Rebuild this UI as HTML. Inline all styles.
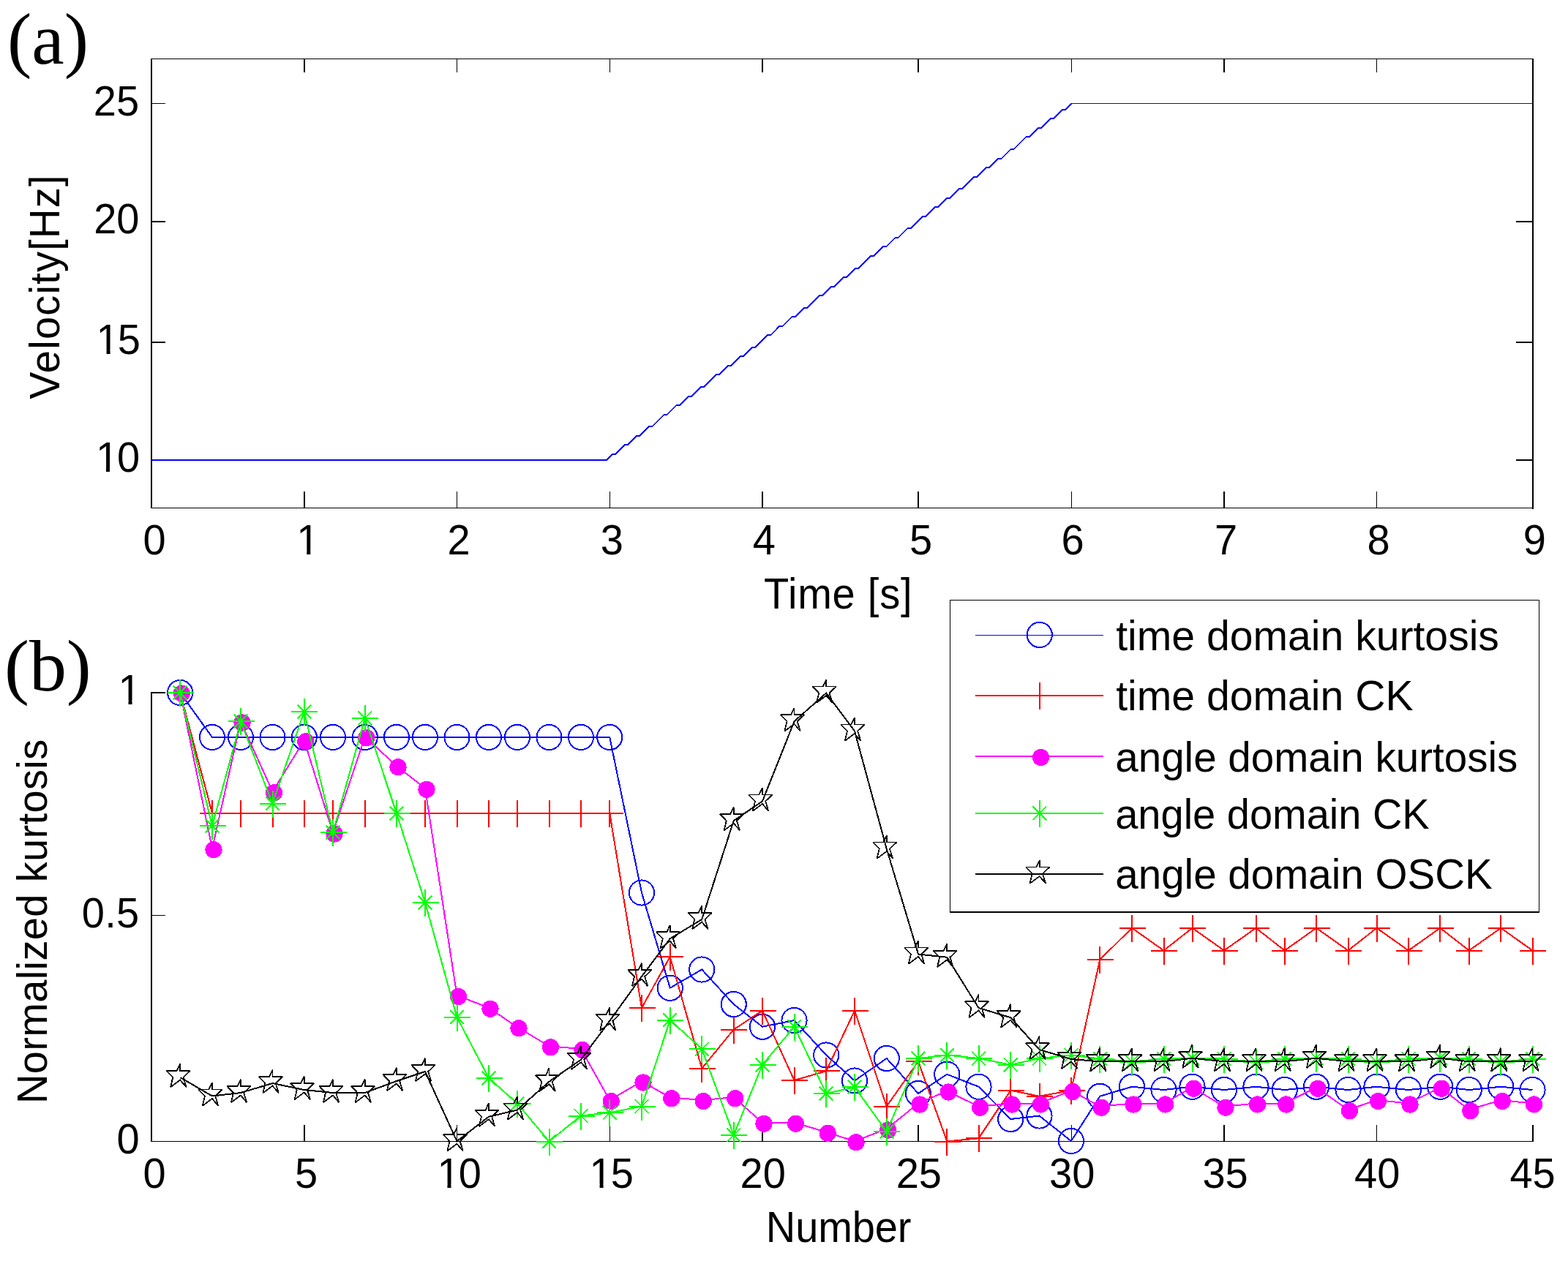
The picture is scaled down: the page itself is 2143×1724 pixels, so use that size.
<!DOCTYPE html>
<html lang="en"><head><meta charset="utf-8"><title>Velocity and normalized kurtosis</title>
<style>html,body{margin:0;padding:0;background:#fff}svg{display:block}text{white-space:pre}</style></head><body>
<svg width="2143" height="1724" viewBox="0 0 2143 1724">
<rect width="2143" height="1724" fill="#fff"/>
<g id="plot-a" shape-rendering="crispEdges">
<rect x="415" y="672" width="2" height="22" fill="#000"/>
<rect x="415" y="81" width="2" height="18" fill="#000"/>
<rect x="624" y="672" width="1" height="22" fill="#000"/>
<rect x="624" y="81" width="1" height="18" fill="#000"/>
<rect x="833" y="672" width="1" height="22" fill="#000"/>
<rect x="833" y="81" width="1" height="18" fill="#000"/>
<rect x="1041" y="672" width="2" height="22" fill="#000"/>
<rect x="1041" y="81" width="2" height="18" fill="#000"/>
<rect x="1254" y="672" width="2" height="22" fill="#000"/>
<rect x="1254" y="81" width="2" height="18" fill="#000"/>
<rect x="1464" y="672" width="1" height="22" fill="#000"/>
<rect x="1464" y="81" width="1" height="18" fill="#000"/>
<rect x="1672" y="672" width="2" height="22" fill="#000"/>
<rect x="1672" y="81" width="2" height="18" fill="#000"/>
<rect x="1881" y="672" width="1" height="22" fill="#000"/>
<rect x="1881" y="81" width="1" height="18" fill="#000"/>
<rect x="208" y="141" width="18" height="1" fill="#000"/>
<rect x="208" y="302" width="18" height="2" fill="#000"/>
<rect x="208" y="467" width="18" height="2" fill="#000"/>
<rect x="2072" y="302" width="22" height="2" fill="#000"/>
<rect x="2072" y="467" width="22" height="2" fill="#000"/>
<rect x="2072" y="628" width="22" height="2" fill="#000"/>
<rect x="206" y="80" width="2" height="615" fill="#000"/>
<rect x="2094" y="80" width="2" height="616" fill="#000"/>
<rect x="206" y="80" width="1890" height="1" fill="#000"/>
<rect x="206" y="694" width="1890" height="1" fill="#000"/>
<polyline fill="none" stroke="#00f" stroke-width="2" stroke-linejoin="miter" points="829,629 833.15,624.83 837.31,620.67 841.46,620.67 845.61,616.5 849.77,612.33 853.92,608.17 858.08,608.17 862.23,604 866.38,599.83 870.54,595.67 874.69,595.67 878.84,591.5 883,587.33 887.15,583.17 891.3,583.17 895.46,579 899.61,574.83 903.76,570.67 907.92,566.5 912.07,566.5 916.23,562.33 920.38,558.17 924.53,554 928.69,554 932.84,549.83 936.99,545.67 941.15,541.5 945.3,541.5 949.45,537.33 953.61,533.17 957.76,529 961.92,529 966.07,524.83 970.22,520.67 974.38,516.5 978.53,512.33 982.68,512.33 986.84,508.17 990.99,504 995.14,499.83 999.3,499.83 1003.45,495.67 1007.6,491.5 1011.76,487.33 1015.91,487.33 1020.07,483.17 1024.22,479 1028.37,474.83 1032.53,474.83 1036.68,470.67 1040.83,466.5 1044.99,462.33 1049.14,458.17 1053.29,458.17 1057.45,454 1061.6,449.83 1065.75,445.67 1069.91,445.67 1074.06,441.5 1078.22,437.33 1082.37,433.17 1086.52,433.17 1090.68,429 1094.83,424.83 1098.98,420.67 1103.14,420.67 1107.29,416.5 1111.44,412.33 1115.6,408.17 1119.75,404 1123.91,404 1128.06,399.83 1132.21,395.67 1136.37,391.5 1140.52,391.5 1144.67,387.33 1148.83,383.17 1152.98,379 1157.13,379 1161.29,374.83 1165.44,370.67 1169.59,366.5 1173.75,366.5 1177.9,362.33 1182.06,358.17 1186.21,354 1190.36,349.83 1194.52,349.83 1198.67,345.67 1202.82,341.5 1206.98,337.33 1211.13,337.33 1215.28,333.17 1219.44,329 1223.59,324.83 1227.75,324.83 1231.9,320.67 1236.05,316.5 1240.21,312.33 1244.36,312.33 1248.51,308.17 1252.67,304 1256.82,299.83 1260.97,295.67 1265.13,295.67 1269.28,291.5 1273.43,287.33 1277.59,283.17 1281.74,283.17 1285.9,279 1290.05,274.83 1294.2,270.67 1298.36,270.67 1302.51,266.5 1306.66,262.33 1310.82,258.17 1314.97,258.17 1319.12,254 1323.28,249.83 1327.43,245.67 1331.58,241.5 1335.74,241.5 1339.89,237.33 1344.05,233.17 1348.2,229 1352.35,229 1356.51,224.83 1360.66,220.67 1364.81,216.5 1368.97,216.5 1373.12,212.33 1377.27,208.17 1381.43,204 1385.58,204 1389.74,199.83 1393.89,195.67 1398.04,191.5 1402.2,187.33 1406.35,187.33 1410.5,183.17 1414.66,179 1418.81,174.83 1422.96,174.83 1427.12,170.67 1431.27,166.5 1435.42,162.33 1439.58,162.33 1443.73,158.17 1447.89,154 1452.04,149.83 1456.19,149.83 1460.35,145.67 1464.5,141.5 1464.5,141.5"/>
<rect x="208" y="628" width="622" height="2" fill="#00f"/>
<rect x="1464" y="141" width="630" height="1" fill="#00f"/>
</g>
<g id="plot-b" shape-rendering="crispEdges">
<rect x="206" y="946" width="2" height="615" fill="#000"/>
<rect x="206" y="1560" width="1890" height="1" fill="#000"/>
<rect x="415" y="1538" width="2" height="22" fill="#000"/>
<rect x="624" y="1538" width="1" height="22" fill="#000"/>
<rect x="833" y="1538" width="1" height="22" fill="#000"/>
<rect x="1041" y="1538" width="2" height="22" fill="#000"/>
<rect x="1254" y="1538" width="2" height="22" fill="#000"/>
<rect x="1464" y="1538" width="1" height="22" fill="#000"/>
<rect x="1672" y="1538" width="2" height="22" fill="#000"/>
<rect x="1881" y="1538" width="1" height="22" fill="#000"/>
<rect x="2094" y="1538" width="2" height="22" fill="#000"/>
<rect x="206" y="946" width="20" height="2" fill="#000"/>
<rect x="208" y="1251" width="18" height="1" fill="#000"/>
<polyline fill="none" stroke="#00f" stroke-width="2" stroke-linejoin="miter" points="246.25,947 290,1008 329,1008 372.5,1008 415.75,1008 455,1008 498.75,1008 542,1008 581,1008 624.5,1008 668,1008 707,1008 750.5,1008 794,1008 833.25,1008 877,1220.5 915.75,1350.75 959.25,1325.5 1002.75,1373 1042,1403.75 1085.5,1395 1129.25,1442.5 1168,1477.5 1211.75,1447 1255,1495 1294.25,1468.75 1337.5,1485.75 1381.25,1530 1420.5,1525.5 1464,1560 1503.25,1498.75 1547,1485.75 1590.5,1490 1629.5,1485.75 1673,1490 1716.5,1485.75 1755.75,1490 1799,1485.75 1842.5,1490 1881.5,1485.75 1925,1490 1968.25,1485.75 2007.75,1490 2051.25,1485.75 2094.5,1490"/>
<circle cx="246.25" cy="947" r="17.1" fill="none" stroke="#00f" stroke-width="2"/>
<circle cx="290" cy="1008" r="17.1" fill="none" stroke="#00f" stroke-width="2"/>
<circle cx="329" cy="1008" r="17.1" fill="none" stroke="#00f" stroke-width="2"/>
<circle cx="372.5" cy="1008" r="17.1" fill="none" stroke="#00f" stroke-width="2"/>
<circle cx="415.75" cy="1008" r="17.1" fill="none" stroke="#00f" stroke-width="2"/>
<circle cx="455" cy="1008" r="17.1" fill="none" stroke="#00f" stroke-width="2"/>
<circle cx="498.75" cy="1008" r="17.1" fill="none" stroke="#00f" stroke-width="2"/>
<circle cx="542" cy="1008" r="17.1" fill="none" stroke="#00f" stroke-width="2"/>
<circle cx="581" cy="1008" r="17.1" fill="none" stroke="#00f" stroke-width="2"/>
<circle cx="624.5" cy="1008" r="17.1" fill="none" stroke="#00f" stroke-width="2"/>
<circle cx="668" cy="1008" r="17.1" fill="none" stroke="#00f" stroke-width="2"/>
<circle cx="707" cy="1008" r="17.1" fill="none" stroke="#00f" stroke-width="2"/>
<circle cx="750.5" cy="1008" r="17.1" fill="none" stroke="#00f" stroke-width="2"/>
<circle cx="794" cy="1008" r="17.1" fill="none" stroke="#00f" stroke-width="2"/>
<circle cx="833.25" cy="1008" r="17.1" fill="none" stroke="#00f" stroke-width="2"/>
<circle cx="877" cy="1220.5" r="17.1" fill="none" stroke="#00f" stroke-width="2"/>
<circle cx="915.75" cy="1350.75" r="17.1" fill="none" stroke="#00f" stroke-width="2"/>
<circle cx="959.25" cy="1325.5" r="17.1" fill="none" stroke="#00f" stroke-width="2"/>
<circle cx="1002.75" cy="1373" r="17.1" fill="none" stroke="#00f" stroke-width="2"/>
<circle cx="1042" cy="1403.75" r="17.1" fill="none" stroke="#00f" stroke-width="2"/>
<circle cx="1085.5" cy="1395" r="17.1" fill="none" stroke="#00f" stroke-width="2"/>
<circle cx="1129.25" cy="1442.5" r="17.1" fill="none" stroke="#00f" stroke-width="2"/>
<circle cx="1168" cy="1477.5" r="17.1" fill="none" stroke="#00f" stroke-width="2"/>
<circle cx="1211.75" cy="1447" r="17.1" fill="none" stroke="#00f" stroke-width="2"/>
<circle cx="1255" cy="1495" r="17.1" fill="none" stroke="#00f" stroke-width="2"/>
<circle cx="1294.25" cy="1468.75" r="17.1" fill="none" stroke="#00f" stroke-width="2"/>
<circle cx="1337.5" cy="1485.75" r="17.1" fill="none" stroke="#00f" stroke-width="2"/>
<circle cx="1381.25" cy="1530" r="17.1" fill="none" stroke="#00f" stroke-width="2"/>
<circle cx="1420.5" cy="1525.5" r="17.1" fill="none" stroke="#00f" stroke-width="2"/>
<circle cx="1464" cy="1560" r="17.1" fill="none" stroke="#00f" stroke-width="2"/>
<circle cx="1503.25" cy="1498.75" r="17.1" fill="none" stroke="#00f" stroke-width="2"/>
<circle cx="1547" cy="1485.75" r="17.1" fill="none" stroke="#00f" stroke-width="2"/>
<circle cx="1590.5" cy="1490" r="17.1" fill="none" stroke="#00f" stroke-width="2"/>
<circle cx="1629.5" cy="1485.75" r="17.1" fill="none" stroke="#00f" stroke-width="2"/>
<circle cx="1673" cy="1490" r="17.1" fill="none" stroke="#00f" stroke-width="2"/>
<circle cx="1716.5" cy="1485.75" r="17.1" fill="none" stroke="#00f" stroke-width="2"/>
<circle cx="1755.75" cy="1490" r="17.1" fill="none" stroke="#00f" stroke-width="2"/>
<circle cx="1799" cy="1485.75" r="17.1" fill="none" stroke="#00f" stroke-width="2"/>
<circle cx="1842.5" cy="1490" r="17.1" fill="none" stroke="#00f" stroke-width="2"/>
<circle cx="1881.5" cy="1485.75" r="17.1" fill="none" stroke="#00f" stroke-width="2"/>
<circle cx="1925" cy="1490" r="17.1" fill="none" stroke="#00f" stroke-width="2"/>
<circle cx="1968.25" cy="1485.75" r="17.1" fill="none" stroke="#00f" stroke-width="2"/>
<circle cx="2007.75" cy="1490" r="17.1" fill="none" stroke="#00f" stroke-width="2"/>
<circle cx="2051.25" cy="1485.75" r="17.1" fill="none" stroke="#00f" stroke-width="2"/>
<circle cx="2094.5" cy="1490" r="17.1" fill="none" stroke="#00f" stroke-width="2"/>
<polyline fill="none" stroke="#f00" stroke-width="2" stroke-linejoin="miter" points="246.25,947 290,1111.75 329,1111.75 372.5,1111.75 415.75,1111.75 455,1111.75 498.75,1111.75 542,1111.75 581,1111.75 624.5,1111.75 668,1111.75 707,1111.75 750.5,1111.75 794,1111.75 833.25,1111.75 877,1378 915.75,1308 959.25,1460.75 1002.75,1407.5 1042,1381.75 1085.5,1477 1129.25,1464.25 1168,1381.75 1211.75,1512.5 1255,1451.25 1294.25,1560.5 1337.5,1556.25 1381.25,1490.75 1420.5,1498.75 1464,1490.75 1503.25,1312 1547,1268.75 1590.5,1299.5 1629.5,1268.75 1673,1299.5 1716.5,1268.75 1755.75,1299.5 1799,1268.75 1842.5,1299.5 1881.5,1268.75 1925,1299.5 1968.25,1268.75 2007.75,1299.5 2051.25,1268.75 2094.5,1299.5"/>
<path d="M228.75 947H264.75M246.25 929V966" fill="none" stroke="#f00" stroke-width="2"/>
<path d="M272.5 1111.75H308.5M290 1093.75V1130.75" fill="none" stroke="#f00" stroke-width="2"/>
<path d="M311.5 1111.75H347.5M329 1093.75V1130.75" fill="none" stroke="#f00" stroke-width="2"/>
<path d="M355 1111.75H391M372.5 1093.75V1130.75" fill="none" stroke="#f00" stroke-width="2"/>
<path d="M398.25 1111.75H434.25M415.75 1093.75V1130.75" fill="none" stroke="#f00" stroke-width="2"/>
<path d="M437.5 1111.75H473.5M455 1093.75V1130.75" fill="none" stroke="#f00" stroke-width="2"/>
<path d="M481.25 1111.75H517.25M498.75 1093.75V1130.75" fill="none" stroke="#f00" stroke-width="2"/>
<path d="M524.5 1111.75H560.5M542 1093.75V1130.75" fill="none" stroke="#f00" stroke-width="2"/>
<path d="M563.5 1111.75H599.5M581 1093.75V1130.75" fill="none" stroke="#f00" stroke-width="2"/>
<path d="M607 1111.75H643M624.5 1093.75V1130.75" fill="none" stroke="#f00" stroke-width="2"/>
<path d="M650.5 1111.75H686.5M668 1093.75V1130.75" fill="none" stroke="#f00" stroke-width="2"/>
<path d="M689.5 1111.75H725.5M707 1093.75V1130.75" fill="none" stroke="#f00" stroke-width="2"/>
<path d="M733 1111.75H769M750.5 1093.75V1130.75" fill="none" stroke="#f00" stroke-width="2"/>
<path d="M776.5 1111.75H812.5M794 1093.75V1130.75" fill="none" stroke="#f00" stroke-width="2"/>
<path d="M815.75 1111.75H851.75M833.25 1093.75V1130.75" fill="none" stroke="#f00" stroke-width="2"/>
<path d="M859.5 1378H895.5M877 1360V1397" fill="none" stroke="#f00" stroke-width="2"/>
<path d="M898.25 1308H934.25M915.75 1290V1327" fill="none" stroke="#f00" stroke-width="2"/>
<path d="M941.75 1460.75H977.75M959.25 1442.75V1479.75" fill="none" stroke="#f00" stroke-width="2"/>
<path d="M985.25 1407.5H1021.25M1002.75 1389.5V1426.5" fill="none" stroke="#f00" stroke-width="2"/>
<path d="M1024.5 1381.75H1060.5M1042 1363.75V1400.75" fill="none" stroke="#f00" stroke-width="2"/>
<path d="M1068 1477H1104M1085.5 1459V1496" fill="none" stroke="#f00" stroke-width="2"/>
<path d="M1111.75 1464.25H1147.75M1129.25 1446.25V1483.25" fill="none" stroke="#f00" stroke-width="2"/>
<path d="M1150.5 1381.75H1186.5M1168 1363.75V1400.75" fill="none" stroke="#f00" stroke-width="2"/>
<path d="M1194.25 1512.5H1230.25M1211.75 1494.5V1531.5" fill="none" stroke="#f00" stroke-width="2"/>
<path d="M1237.5 1451.25H1273.5M1255 1433.25V1470.25" fill="none" stroke="#f00" stroke-width="2"/>
<path d="M1276.75 1560.5H1312.75M1294.25 1542.5V1579.5" fill="none" stroke="#f00" stroke-width="2"/>
<path d="M1320 1556.25H1356M1337.5 1538.25V1575.25" fill="none" stroke="#f00" stroke-width="2"/>
<path d="M1363.75 1490.75H1399.75M1381.25 1472.75V1509.75" fill="none" stroke="#f00" stroke-width="2"/>
<path d="M1403 1498.75H1439M1420.5 1480.75V1517.75" fill="none" stroke="#f00" stroke-width="2"/>
<path d="M1446.5 1490.75H1482.5M1464 1472.75V1509.75" fill="none" stroke="#f00" stroke-width="2"/>
<path d="M1485.75 1312H1521.75M1503.25 1294V1331" fill="none" stroke="#f00" stroke-width="2"/>
<path d="M1529.5 1268.75H1565.5M1547 1250.75V1287.75" fill="none" stroke="#f00" stroke-width="2"/>
<path d="M1573 1299.5H1609M1590.5 1281.5V1318.5" fill="none" stroke="#f00" stroke-width="2"/>
<path d="M1612 1268.75H1648M1629.5 1250.75V1287.75" fill="none" stroke="#f00" stroke-width="2"/>
<path d="M1655.5 1299.5H1691.5M1673 1281.5V1318.5" fill="none" stroke="#f00" stroke-width="2"/>
<path d="M1699 1268.75H1735M1716.5 1250.75V1287.75" fill="none" stroke="#f00" stroke-width="2"/>
<path d="M1738.25 1299.5H1774.25M1755.75 1281.5V1318.5" fill="none" stroke="#f00" stroke-width="2"/>
<path d="M1781.5 1268.75H1817.5M1799 1250.75V1287.75" fill="none" stroke="#f00" stroke-width="2"/>
<path d="M1825 1299.5H1861M1842.5 1281.5V1318.5" fill="none" stroke="#f00" stroke-width="2"/>
<path d="M1864 1268.75H1900M1881.5 1250.75V1287.75" fill="none" stroke="#f00" stroke-width="2"/>
<path d="M1907.5 1299.5H1943.5M1925 1281.5V1318.5" fill="none" stroke="#f00" stroke-width="2"/>
<path d="M1950.75 1268.75H1986.75M1968.25 1250.75V1287.75" fill="none" stroke="#f00" stroke-width="2"/>
<path d="M1990.25 1299.5H2026.25M2007.75 1281.5V1318.5" fill="none" stroke="#f00" stroke-width="2"/>
<path d="M2033.75 1268.75H2069.75M2051.25 1250.75V1287.75" fill="none" stroke="#f00" stroke-width="2"/>
<path d="M2077 1299.5H2113M2094.5 1281.5V1318.5" fill="none" stroke="#f00" stroke-width="2"/>
<polyline fill="none" stroke="#f0f" stroke-width="2" stroke-linejoin="miter" points="246.25,946.5 290,1160.25 329,986.5 372.5,1082.25 415.75,1012.25 455,1138.5 498.75,1007.25 542,1047.25 581,1077.75 624.5,1361 668,1377.75 707,1404.25 750.5,1430.25 794,1434 833.25,1504 877,1478.5 915.75,1500.25 959.25,1504 1002.75,1500.25 1042,1534.75 1085.5,1534.75 1129.25,1547.75 1168,1560.25 1211.75,1543.5 1255,1508.5 1294.25,1491.5 1337.5,1512.75 1381.25,1508.5 1420.5,1508.5 1464,1491 1503.25,1512.75 1547,1508.5 1590.5,1508.5 1629.5,1486.75 1673,1512.75 1716.5,1508.5 1755.75,1508.5 1799,1486.75 1842.5,1517.25 1881.5,1504 1925,1508.5 1968.25,1486.75 2007.75,1517.25 2051.25,1504 2094.5,1508.5"/>
<circle cx="248.25" cy="948" r="11.6" fill="#f0f"/>
<circle cx="292" cy="1161.75" r="11.6" fill="#f0f"/>
<circle cx="331" cy="988" r="11.6" fill="#f0f"/>
<circle cx="374.5" cy="1083.75" r="11.6" fill="#f0f"/>
<circle cx="417.75" cy="1013.75" r="11.6" fill="#f0f"/>
<circle cx="457" cy="1140" r="11.6" fill="#f0f"/>
<circle cx="500.75" cy="1008.75" r="11.6" fill="#f0f"/>
<circle cx="544" cy="1048.75" r="11.6" fill="#f0f"/>
<circle cx="583" cy="1079.25" r="11.6" fill="#f0f"/>
<circle cx="626.5" cy="1362.5" r="11.6" fill="#f0f"/>
<circle cx="670" cy="1379.25" r="11.6" fill="#f0f"/>
<circle cx="709" cy="1405.75" r="11.6" fill="#f0f"/>
<circle cx="752.5" cy="1431.75" r="11.6" fill="#f0f"/>
<circle cx="796" cy="1435.5" r="11.6" fill="#f0f"/>
<circle cx="835.25" cy="1505.5" r="11.6" fill="#f0f"/>
<circle cx="879" cy="1480" r="11.6" fill="#f0f"/>
<circle cx="917.75" cy="1501.75" r="11.6" fill="#f0f"/>
<circle cx="961.25" cy="1505.5" r="11.6" fill="#f0f"/>
<circle cx="1004.75" cy="1501.75" r="11.6" fill="#f0f"/>
<circle cx="1044" cy="1536.25" r="11.6" fill="#f0f"/>
<circle cx="1087.5" cy="1536.25" r="11.6" fill="#f0f"/>
<circle cx="1131.25" cy="1549.25" r="11.6" fill="#f0f"/>
<circle cx="1170" cy="1561.75" r="11.6" fill="#f0f"/>
<circle cx="1213.75" cy="1545" r="11.6" fill="#f0f"/>
<circle cx="1257" cy="1510" r="11.6" fill="#f0f"/>
<circle cx="1296.25" cy="1493" r="11.6" fill="#f0f"/>
<circle cx="1339.5" cy="1514.25" r="11.6" fill="#f0f"/>
<circle cx="1383.25" cy="1510" r="11.6" fill="#f0f"/>
<circle cx="1422.5" cy="1510" r="11.6" fill="#f0f"/>
<circle cx="1466" cy="1492.5" r="11.6" fill="#f0f"/>
<circle cx="1505.25" cy="1514.25" r="11.6" fill="#f0f"/>
<circle cx="1549" cy="1510" r="11.6" fill="#f0f"/>
<circle cx="1592.5" cy="1510" r="11.6" fill="#f0f"/>
<circle cx="1631.5" cy="1488.25" r="11.6" fill="#f0f"/>
<circle cx="1675" cy="1514.25" r="11.6" fill="#f0f"/>
<circle cx="1718.5" cy="1510" r="11.6" fill="#f0f"/>
<circle cx="1757.75" cy="1510" r="11.6" fill="#f0f"/>
<circle cx="1801" cy="1488.25" r="11.6" fill="#f0f"/>
<circle cx="1844.5" cy="1518.75" r="11.6" fill="#f0f"/>
<circle cx="1883.5" cy="1505.5" r="11.6" fill="#f0f"/>
<circle cx="1927" cy="1510" r="11.6" fill="#f0f"/>
<circle cx="1970.25" cy="1488.25" r="11.6" fill="#f0f"/>
<circle cx="2009.75" cy="1518.75" r="11.6" fill="#f0f"/>
<circle cx="2053.25" cy="1505.5" r="11.6" fill="#f0f"/>
<circle cx="2096.5" cy="1510" r="11.6" fill="#f0f"/>
<polyline fill="none" stroke="#0f0" stroke-width="2" stroke-linejoin="miter" points="246.25,947 290,1129.25 329,986.25 372.5,1098.75 415.75,973 455,1138.25 498.75,981.75 542,1112 581,1233.75 624.5,1390.75 668,1473.75 707,1508.75 750.5,1560.5 794,1525.5 833.25,1521.25 877,1512.5 915.75,1394.5 959.25,1434.25 1002.75,1551.75 1042,1455.75 1085.5,1403.75 1129.25,1495 1168,1486.25 1211.75,1547 1255,1447 1294.25,1442.5 1337.5,1447 1381.25,1455.75 1420.5,1447 1464,1442.5 1503.25,1447.5 1547,1451.5 1590.5,1447.5 1629.5,1446.5 1673,1447.5 1716.5,1452 1755.75,1447.5 1799,1446.5 1842.5,1447.5 1881.5,1452 1925,1447.5 1968.25,1446.5 2007.75,1447.5 2051.25,1452 2094.5,1447.5"/>
<path d="M228.75 947H264.75M246.25 929V966M236.95 937.7L255.55 956.3M236.95 956.3L255.55 937.7" fill="none" stroke="#0f0" stroke-width="2"/>
<path d="M272.5 1129.25H308.5M290 1111.25V1148.25M280.7 1119.95L299.3 1138.55M280.7 1138.55L299.3 1119.95" fill="none" stroke="#0f0" stroke-width="2"/>
<path d="M311.5 986.25H347.5M329 968.25V1005.25M319.7 976.95L338.3 995.55M319.7 995.55L338.3 976.95" fill="none" stroke="#0f0" stroke-width="2"/>
<path d="M355 1098.75H391M372.5 1080.75V1117.75M363.2 1089.45L381.8 1108.05M363.2 1108.05L381.8 1089.45" fill="none" stroke="#0f0" stroke-width="2"/>
<path d="M398.25 973H434.25M415.75 955V992M406.45 963.7L425.05 982.3M406.45 982.3L425.05 963.7" fill="none" stroke="#0f0" stroke-width="2"/>
<path d="M437.5 1138.25H473.5M455 1120.25V1157.25M445.7 1128.95L464.3 1147.55M445.7 1147.55L464.3 1128.95" fill="none" stroke="#0f0" stroke-width="2"/>
<path d="M481.25 981.75H517.25M498.75 963.75V1000.75M489.45 972.45L508.05 991.05M489.45 991.05L508.05 972.45" fill="none" stroke="#0f0" stroke-width="2"/>
<path d="M524.5 1112H560.5M542 1094V1131M532.7 1102.7L551.3 1121.3M532.7 1121.3L551.3 1102.7" fill="none" stroke="#0f0" stroke-width="2"/>
<path d="M563.5 1233.75H599.5M581 1215.75V1252.75M571.7 1224.45L590.3 1243.05M571.7 1243.05L590.3 1224.45" fill="none" stroke="#0f0" stroke-width="2"/>
<path d="M607 1390.75H643M624.5 1372.75V1409.75M615.2 1381.45L633.8 1400.05M615.2 1400.05L633.8 1381.45" fill="none" stroke="#0f0" stroke-width="2"/>
<path d="M650.5 1473.75H686.5M668 1455.75V1492.75M658.7 1464.45L677.3 1483.05M658.7 1483.05L677.3 1464.45" fill="none" stroke="#0f0" stroke-width="2"/>
<path d="M689.5 1508.75H725.5M707 1490.75V1527.75M697.7 1499.45L716.3 1518.05M697.7 1518.05L716.3 1499.45" fill="none" stroke="#0f0" stroke-width="2"/>
<path d="M733 1560.5H769M750.5 1542.5V1579.5M741.2 1551.2L759.8 1569.8M741.2 1569.8L759.8 1551.2" fill="none" stroke="#0f0" stroke-width="2"/>
<path d="M776.5 1525.5H812.5M794 1507.5V1544.5M784.7 1516.2L803.3 1534.8M784.7 1534.8L803.3 1516.2" fill="none" stroke="#0f0" stroke-width="2"/>
<path d="M815.75 1521.25H851.75M833.25 1503.25V1540.25M823.95 1511.95L842.55 1530.55M823.95 1530.55L842.55 1511.95" fill="none" stroke="#0f0" stroke-width="2"/>
<path d="M859.5 1512.5H895.5M877 1494.5V1531.5M867.7 1503.2L886.3 1521.8M867.7 1521.8L886.3 1503.2" fill="none" stroke="#0f0" stroke-width="2"/>
<path d="M898.25 1394.5H934.25M915.75 1376.5V1413.5M906.45 1385.2L925.05 1403.8M906.45 1403.8L925.05 1385.2" fill="none" stroke="#0f0" stroke-width="2"/>
<path d="M941.75 1434.25H977.75M959.25 1416.25V1453.25M949.95 1424.95L968.55 1443.55M949.95 1443.55L968.55 1424.95" fill="none" stroke="#0f0" stroke-width="2"/>
<path d="M985.25 1551.75H1021.25M1002.75 1533.75V1570.75M993.45 1542.45L1012.05 1561.05M993.45 1561.05L1012.05 1542.45" fill="none" stroke="#0f0" stroke-width="2"/>
<path d="M1024.5 1455.75H1060.5M1042 1437.75V1474.75M1032.7 1446.45L1051.3 1465.05M1032.7 1465.05L1051.3 1446.45" fill="none" stroke="#0f0" stroke-width="2"/>
<path d="M1068 1403.75H1104M1085.5 1385.75V1422.75M1076.2 1394.45L1094.8 1413.05M1076.2 1413.05L1094.8 1394.45" fill="none" stroke="#0f0" stroke-width="2"/>
<path d="M1111.75 1495H1147.75M1129.25 1477V1514M1119.95 1485.7L1138.55 1504.3M1119.95 1504.3L1138.55 1485.7" fill="none" stroke="#0f0" stroke-width="2"/>
<path d="M1150.5 1486.25H1186.5M1168 1468.25V1505.25M1158.7 1476.95L1177.3 1495.55M1158.7 1495.55L1177.3 1476.95" fill="none" stroke="#0f0" stroke-width="2"/>
<path d="M1194.25 1547H1230.25M1211.75 1529V1566M1202.45 1537.7L1221.05 1556.3M1202.45 1556.3L1221.05 1537.7" fill="none" stroke="#0f0" stroke-width="2"/>
<path d="M1237.5 1447H1273.5M1255 1429V1466M1245.7 1437.7L1264.3 1456.3M1245.7 1456.3L1264.3 1437.7" fill="none" stroke="#0f0" stroke-width="2"/>
<path d="M1276.75 1442.5H1312.75M1294.25 1424.5V1461.5M1284.95 1433.2L1303.55 1451.8M1284.95 1451.8L1303.55 1433.2" fill="none" stroke="#0f0" stroke-width="2"/>
<path d="M1320 1447H1356M1337.5 1429V1466M1328.2 1437.7L1346.8 1456.3M1328.2 1456.3L1346.8 1437.7" fill="none" stroke="#0f0" stroke-width="2"/>
<path d="M1363.75 1455.75H1399.75M1381.25 1437.75V1474.75M1371.95 1446.45L1390.55 1465.05M1371.95 1465.05L1390.55 1446.45" fill="none" stroke="#0f0" stroke-width="2"/>
<path d="M1403 1447H1439M1420.5 1429V1466M1411.2 1437.7L1429.8 1456.3M1411.2 1456.3L1429.8 1437.7" fill="none" stroke="#0f0" stroke-width="2"/>
<path d="M1446.5 1442.5H1482.5M1464 1424.5V1461.5M1454.7 1433.2L1473.3 1451.8M1454.7 1451.8L1473.3 1433.2" fill="none" stroke="#0f0" stroke-width="2"/>
<path d="M1485.75 1447.5H1521.75M1503.25 1429.5V1466.5M1493.95 1438.2L1512.55 1456.8M1493.95 1456.8L1512.55 1438.2" fill="none" stroke="#0f0" stroke-width="2"/>
<path d="M1529.5 1451.5H1565.5M1547 1433.5V1470.5M1537.7 1442.2L1556.3 1460.8M1537.7 1460.8L1556.3 1442.2" fill="none" stroke="#0f0" stroke-width="2"/>
<path d="M1573 1447.5H1609M1590.5 1429.5V1466.5M1581.2 1438.2L1599.8 1456.8M1581.2 1456.8L1599.8 1438.2" fill="none" stroke="#0f0" stroke-width="2"/>
<path d="M1612 1446.5H1648M1629.5 1428.5V1465.5M1620.2 1437.2L1638.8 1455.8M1620.2 1455.8L1638.8 1437.2" fill="none" stroke="#0f0" stroke-width="2"/>
<path d="M1655.5 1447.5H1691.5M1673 1429.5V1466.5M1663.7 1438.2L1682.3 1456.8M1663.7 1456.8L1682.3 1438.2" fill="none" stroke="#0f0" stroke-width="2"/>
<path d="M1699 1452H1735M1716.5 1434V1471M1707.2 1442.7L1725.8 1461.3M1707.2 1461.3L1725.8 1442.7" fill="none" stroke="#0f0" stroke-width="2"/>
<path d="M1738.25 1447.5H1774.25M1755.75 1429.5V1466.5M1746.45 1438.2L1765.05 1456.8M1746.45 1456.8L1765.05 1438.2" fill="none" stroke="#0f0" stroke-width="2"/>
<path d="M1781.5 1446.5H1817.5M1799 1428.5V1465.5M1789.7 1437.2L1808.3 1455.8M1789.7 1455.8L1808.3 1437.2" fill="none" stroke="#0f0" stroke-width="2"/>
<path d="M1825 1447.5H1861M1842.5 1429.5V1466.5M1833.2 1438.2L1851.8 1456.8M1833.2 1456.8L1851.8 1438.2" fill="none" stroke="#0f0" stroke-width="2"/>
<path d="M1864 1452H1900M1881.5 1434V1471M1872.2 1442.7L1890.8 1461.3M1872.2 1461.3L1890.8 1442.7" fill="none" stroke="#0f0" stroke-width="2"/>
<path d="M1907.5 1447.5H1943.5M1925 1429.5V1466.5M1915.7 1438.2L1934.3 1456.8M1915.7 1456.8L1934.3 1438.2" fill="none" stroke="#0f0" stroke-width="2"/>
<path d="M1950.75 1446.5H1986.75M1968.25 1428.5V1465.5M1958.95 1437.2L1977.55 1455.8M1958.95 1455.8L1977.55 1437.2" fill="none" stroke="#0f0" stroke-width="2"/>
<path d="M1990.25 1447.5H2026.25M2007.75 1429.5V1466.5M1998.45 1438.2L2017.05 1456.8M1998.45 1456.8L2017.05 1438.2" fill="none" stroke="#0f0" stroke-width="2"/>
<path d="M2033.75 1452H2069.75M2051.25 1434V1471M2041.95 1442.7L2060.55 1461.3M2041.95 1461.3L2060.55 1442.7" fill="none" stroke="#0f0" stroke-width="2"/>
<path d="M2077 1447.5H2113M2094.5 1429.5V1466.5M2085.2 1438.2L2103.8 1456.8M2085.2 1456.8L2103.8 1438.2" fill="none" stroke="#0f0" stroke-width="2"/>
<polyline fill="none" stroke="#000" stroke-width="2" stroke-linejoin="miter" points="246.25,1473 290,1498.5 329,1494 372.5,1481 415.75,1490 455,1494 498.75,1494 542,1478 581,1465 624.5,1560.3 668,1526.75 707,1517.5 750.5,1478.75 794,1448.75 833.25,1395.75 877,1335 915.75,1283.25 959.25,1257 1002.75,1122 1042,1095.5 1085.5,986.25 1129.25,947.5 1168,999.5 1211.75,1160.5 1255,1304.5 1294.25,1308.75 1337.5,1378 1381.25,1391.25 1420.5,1435 1464,1448 1503.25,1451.25 1547,1451.25 1590.5,1451.25 1629.5,1446.75 1673,1451.25 1716.5,1451.25 1755.75,1451.25 1799,1446.75 1842.5,1451.25 1881.5,1451.25 1925,1451.25 1968.25,1446.75 2007.75,1451.25 2051.25,1451.25 2094.5,1451.25"/>
<polygon fill="none" stroke="#000" stroke-width="1.75" stroke-linejoin="miter" stroke-miterlimit="2" points="246.25,1454.6 246.25,1464 259.85,1464 250.45,1473 254.55,1486.3 246.25,1476.5 233.05,1486.3 236.25,1473 227.55,1464 241.75,1464"/>
<polygon fill="none" stroke="#000" stroke-width="1.75" stroke-linejoin="miter" stroke-miterlimit="2" points="290,1480.1 290,1489.5 303.6,1489.5 294.2,1498.5 298.3,1511.8 290,1502 276.8,1511.8 280,1498.5 271.3,1489.5 285.5,1489.5"/>
<polygon fill="none" stroke="#000" stroke-width="1.75" stroke-linejoin="miter" stroke-miterlimit="2" points="329,1475.6 329,1485 342.6,1485 333.2,1494 337.3,1507.3 329,1497.5 315.8,1507.3 319,1494 310.3,1485 324.5,1485"/>
<polygon fill="none" stroke="#000" stroke-width="1.75" stroke-linejoin="miter" stroke-miterlimit="2" points="372.5,1462.6 372.5,1472 386.1,1472 376.7,1481 380.8,1494.3 372.5,1484.5 359.3,1494.3 362.5,1481 353.8,1472 368,1472"/>
<polygon fill="none" stroke="#000" stroke-width="1.75" stroke-linejoin="miter" stroke-miterlimit="2" points="415.75,1471.6 415.75,1481 429.35,1481 419.95,1490 424.05,1503.3 415.75,1493.5 402.55,1503.3 405.75,1490 397.05,1481 411.25,1481"/>
<polygon fill="none" stroke="#000" stroke-width="1.75" stroke-linejoin="miter" stroke-miterlimit="2" points="455,1475.6 455,1485 468.6,1485 459.2,1494 463.3,1507.3 455,1497.5 441.8,1507.3 445,1494 436.3,1485 450.5,1485"/>
<polygon fill="none" stroke="#000" stroke-width="1.75" stroke-linejoin="miter" stroke-miterlimit="2" points="498.75,1475.6 498.75,1485 512.35,1485 502.95,1494 507.05,1507.3 498.75,1497.5 485.55,1507.3 488.75,1494 480.05,1485 494.25,1485"/>
<polygon fill="none" stroke="#000" stroke-width="1.75" stroke-linejoin="miter" stroke-miterlimit="2" points="542,1459.6 542,1469 555.6,1469 546.2,1478 550.3,1491.3 542,1481.5 528.8,1491.3 532,1478 523.3,1469 537.5,1469"/>
<polygon fill="none" stroke="#000" stroke-width="1.75" stroke-linejoin="miter" stroke-miterlimit="2" points="581,1446.6 581,1456 594.6,1456 585.2,1465 589.3,1478.3 581,1468.5 567.8,1478.3 571,1465 562.3,1456 576.5,1456"/>
<polygon fill="none" stroke="#000" stroke-width="1.75" stroke-linejoin="miter" stroke-miterlimit="2" points="624.5,1541.9 624.5,1551.3 638.1,1551.3 628.7,1560.3 632.8,1573.6 624.5,1563.8 611.3,1573.6 614.5,1560.3 605.8,1551.3 620,1551.3"/>
<polygon fill="none" stroke="#000" stroke-width="1.75" stroke-linejoin="miter" stroke-miterlimit="2" points="668,1508.35 668,1517.75 681.6,1517.75 672.2,1526.75 676.3,1540.05 668,1530.25 654.8,1540.05 658,1526.75 649.3,1517.75 663.5,1517.75"/>
<polygon fill="none" stroke="#000" stroke-width="1.75" stroke-linejoin="miter" stroke-miterlimit="2" points="707,1499.1 707,1508.5 720.6,1508.5 711.2,1517.5 715.3,1530.8 707,1521 693.8,1530.8 697,1517.5 688.3,1508.5 702.5,1508.5"/>
<polygon fill="none" stroke="#000" stroke-width="1.75" stroke-linejoin="miter" stroke-miterlimit="2" points="750.5,1460.35 750.5,1469.75 764.1,1469.75 754.7,1478.75 758.8,1492.05 750.5,1482.25 737.3,1492.05 740.5,1478.75 731.8,1469.75 746,1469.75"/>
<polygon fill="none" stroke="#000" stroke-width="1.75" stroke-linejoin="miter" stroke-miterlimit="2" points="794,1430.35 794,1439.75 807.6,1439.75 798.2,1448.75 802.3,1462.05 794,1452.25 780.8,1462.05 784,1448.75 775.3,1439.75 789.5,1439.75"/>
<polygon fill="none" stroke="#000" stroke-width="1.75" stroke-linejoin="miter" stroke-miterlimit="2" points="833.25,1377.35 833.25,1386.75 846.85,1386.75 837.45,1395.75 841.55,1409.05 833.25,1399.25 820.05,1409.05 823.25,1395.75 814.55,1386.75 828.75,1386.75"/>
<polygon fill="none" stroke="#000" stroke-width="1.75" stroke-linejoin="miter" stroke-miterlimit="2" points="877,1316.6 877,1326 890.6,1326 881.2,1335 885.3,1348.3 877,1338.5 863.8,1348.3 867,1335 858.3,1326 872.5,1326"/>
<polygon fill="none" stroke="#000" stroke-width="1.75" stroke-linejoin="miter" stroke-miterlimit="2" points="915.75,1264.85 915.75,1274.25 929.35,1274.25 919.95,1283.25 924.05,1296.55 915.75,1286.75 902.55,1296.55 905.75,1283.25 897.05,1274.25 911.25,1274.25"/>
<polygon fill="none" stroke="#000" stroke-width="1.75" stroke-linejoin="miter" stroke-miterlimit="2" points="959.25,1238.6 959.25,1248 972.85,1248 963.45,1257 967.55,1270.3 959.25,1260.5 946.05,1270.3 949.25,1257 940.55,1248 954.75,1248"/>
<polygon fill="none" stroke="#000" stroke-width="1.75" stroke-linejoin="miter" stroke-miterlimit="2" points="1002.75,1103.6 1002.75,1113 1016.35,1113 1006.95,1122 1011.05,1135.3 1002.75,1125.5 989.55,1135.3 992.75,1122 984.05,1113 998.25,1113"/>
<polygon fill="none" stroke="#000" stroke-width="1.75" stroke-linejoin="miter" stroke-miterlimit="2" points="1042,1077.1 1042,1086.5 1055.6,1086.5 1046.2,1095.5 1050.3,1108.8 1042,1099 1028.8,1108.8 1032,1095.5 1023.3,1086.5 1037.5,1086.5"/>
<polygon fill="none" stroke="#000" stroke-width="1.75" stroke-linejoin="miter" stroke-miterlimit="2" points="1085.5,967.85 1085.5,977.25 1099.1,977.25 1089.7,986.25 1093.8,999.55 1085.5,989.75 1072.3,999.55 1075.5,986.25 1066.8,977.25 1081,977.25"/>
<polygon fill="none" stroke="#000" stroke-width="1.75" stroke-linejoin="miter" stroke-miterlimit="2" points="1129.25,929.1 1129.25,938.5 1142.85,938.5 1133.45,947.5 1137.55,960.8 1129.25,951 1116.05,960.8 1119.25,947.5 1110.55,938.5 1124.75,938.5"/>
<polygon fill="none" stroke="#000" stroke-width="1.75" stroke-linejoin="miter" stroke-miterlimit="2" points="1168,981.1 1168,990.5 1181.6,990.5 1172.2,999.5 1176.3,1012.8 1168,1003 1154.8,1012.8 1158,999.5 1149.3,990.5 1163.5,990.5"/>
<polygon fill="none" stroke="#000" stroke-width="1.75" stroke-linejoin="miter" stroke-miterlimit="2" points="1211.75,1142.1 1211.75,1151.5 1225.35,1151.5 1215.95,1160.5 1220.05,1173.8 1211.75,1164 1198.55,1173.8 1201.75,1160.5 1193.05,1151.5 1207.25,1151.5"/>
<polygon fill="none" stroke="#000" stroke-width="1.75" stroke-linejoin="miter" stroke-miterlimit="2" points="1255,1286.1 1255,1295.5 1268.6,1295.5 1259.2,1304.5 1263.3,1317.8 1255,1308 1241.8,1317.8 1245,1304.5 1236.3,1295.5 1250.5,1295.5"/>
<polygon fill="none" stroke="#000" stroke-width="1.75" stroke-linejoin="miter" stroke-miterlimit="2" points="1294.25,1290.35 1294.25,1299.75 1307.85,1299.75 1298.45,1308.75 1302.55,1322.05 1294.25,1312.25 1281.05,1322.05 1284.25,1308.75 1275.55,1299.75 1289.75,1299.75"/>
<polygon fill="none" stroke="#000" stroke-width="1.75" stroke-linejoin="miter" stroke-miterlimit="2" points="1337.5,1359.6 1337.5,1369 1351.1,1369 1341.7,1378 1345.8,1391.3 1337.5,1381.5 1324.3,1391.3 1327.5,1378 1318.8,1369 1333,1369"/>
<polygon fill="none" stroke="#000" stroke-width="1.75" stroke-linejoin="miter" stroke-miterlimit="2" points="1381.25,1372.85 1381.25,1382.25 1394.85,1382.25 1385.45,1391.25 1389.55,1404.55 1381.25,1394.75 1368.05,1404.55 1371.25,1391.25 1362.55,1382.25 1376.75,1382.25"/>
<polygon fill="none" stroke="#000" stroke-width="1.75" stroke-linejoin="miter" stroke-miterlimit="2" points="1420.5,1416.6 1420.5,1426 1434.1,1426 1424.7,1435 1428.8,1448.3 1420.5,1438.5 1407.3,1448.3 1410.5,1435 1401.8,1426 1416,1426"/>
<polygon fill="none" stroke="#000" stroke-width="1.75" stroke-linejoin="miter" stroke-miterlimit="2" points="1464,1429.6 1464,1439 1477.6,1439 1468.2,1448 1472.3,1461.3 1464,1451.5 1450.8,1461.3 1454,1448 1445.3,1439 1459.5,1439"/>
<polygon fill="none" stroke="#000" stroke-width="1.75" stroke-linejoin="miter" stroke-miterlimit="2" points="1503.25,1432.85 1503.25,1442.25 1516.85,1442.25 1507.45,1451.25 1511.55,1464.55 1503.25,1454.75 1490.05,1464.55 1493.25,1451.25 1484.55,1442.25 1498.75,1442.25"/>
<polygon fill="none" stroke="#000" stroke-width="1.75" stroke-linejoin="miter" stroke-miterlimit="2" points="1547,1432.85 1547,1442.25 1560.6,1442.25 1551.2,1451.25 1555.3,1464.55 1547,1454.75 1533.8,1464.55 1537,1451.25 1528.3,1442.25 1542.5,1442.25"/>
<polygon fill="none" stroke="#000" stroke-width="1.75" stroke-linejoin="miter" stroke-miterlimit="2" points="1590.5,1432.85 1590.5,1442.25 1604.1,1442.25 1594.7,1451.25 1598.8,1464.55 1590.5,1454.75 1577.3,1464.55 1580.5,1451.25 1571.8,1442.25 1586,1442.25"/>
<polygon fill="none" stroke="#000" stroke-width="1.75" stroke-linejoin="miter" stroke-miterlimit="2" points="1629.5,1428.35 1629.5,1437.75 1643.1,1437.75 1633.7,1446.75 1637.8,1460.05 1629.5,1450.25 1616.3,1460.05 1619.5,1446.75 1610.8,1437.75 1625,1437.75"/>
<polygon fill="none" stroke="#000" stroke-width="1.75" stroke-linejoin="miter" stroke-miterlimit="2" points="1673,1432.85 1673,1442.25 1686.6,1442.25 1677.2,1451.25 1681.3,1464.55 1673,1454.75 1659.8,1464.55 1663,1451.25 1654.3,1442.25 1668.5,1442.25"/>
<polygon fill="none" stroke="#000" stroke-width="1.75" stroke-linejoin="miter" stroke-miterlimit="2" points="1716.5,1432.85 1716.5,1442.25 1730.1,1442.25 1720.7,1451.25 1724.8,1464.55 1716.5,1454.75 1703.3,1464.55 1706.5,1451.25 1697.8,1442.25 1712,1442.25"/>
<polygon fill="none" stroke="#000" stroke-width="1.75" stroke-linejoin="miter" stroke-miterlimit="2" points="1755.75,1432.85 1755.75,1442.25 1769.35,1442.25 1759.95,1451.25 1764.05,1464.55 1755.75,1454.75 1742.55,1464.55 1745.75,1451.25 1737.05,1442.25 1751.25,1442.25"/>
<polygon fill="none" stroke="#000" stroke-width="1.75" stroke-linejoin="miter" stroke-miterlimit="2" points="1799,1428.35 1799,1437.75 1812.6,1437.75 1803.2,1446.75 1807.3,1460.05 1799,1450.25 1785.8,1460.05 1789,1446.75 1780.3,1437.75 1794.5,1437.75"/>
<polygon fill="none" stroke="#000" stroke-width="1.75" stroke-linejoin="miter" stroke-miterlimit="2" points="1842.5,1432.85 1842.5,1442.25 1856.1,1442.25 1846.7,1451.25 1850.8,1464.55 1842.5,1454.75 1829.3,1464.55 1832.5,1451.25 1823.8,1442.25 1838,1442.25"/>
<polygon fill="none" stroke="#000" stroke-width="1.75" stroke-linejoin="miter" stroke-miterlimit="2" points="1881.5,1432.85 1881.5,1442.25 1895.1,1442.25 1885.7,1451.25 1889.8,1464.55 1881.5,1454.75 1868.3,1464.55 1871.5,1451.25 1862.8,1442.25 1877,1442.25"/>
<polygon fill="none" stroke="#000" stroke-width="1.75" stroke-linejoin="miter" stroke-miterlimit="2" points="1925,1432.85 1925,1442.25 1938.6,1442.25 1929.2,1451.25 1933.3,1464.55 1925,1454.75 1911.8,1464.55 1915,1451.25 1906.3,1442.25 1920.5,1442.25"/>
<polygon fill="none" stroke="#000" stroke-width="1.75" stroke-linejoin="miter" stroke-miterlimit="2" points="1968.25,1428.35 1968.25,1437.75 1981.85,1437.75 1972.45,1446.75 1976.55,1460.05 1968.25,1450.25 1955.05,1460.05 1958.25,1446.75 1949.55,1437.75 1963.75,1437.75"/>
<polygon fill="none" stroke="#000" stroke-width="1.75" stroke-linejoin="miter" stroke-miterlimit="2" points="2007.75,1432.85 2007.75,1442.25 2021.35,1442.25 2011.95,1451.25 2016.05,1464.55 2007.75,1454.75 1994.55,1464.55 1997.75,1451.25 1989.05,1442.25 2003.25,1442.25"/>
<polygon fill="none" stroke="#000" stroke-width="1.75" stroke-linejoin="miter" stroke-miterlimit="2" points="2051.25,1432.85 2051.25,1442.25 2064.85,1442.25 2055.45,1451.25 2059.55,1464.55 2051.25,1454.75 2038.05,1464.55 2041.25,1451.25 2032.55,1442.25 2046.75,1442.25"/>
<polygon fill="none" stroke="#000" stroke-width="1.75" stroke-linejoin="miter" stroke-miterlimit="2" points="2094.5,1432.85 2094.5,1442.25 2108.1,1442.25 2098.7,1451.25 2102.8,1464.55 2094.5,1454.75 2081.3,1464.55 2084.5,1451.25 2075.8,1442.25 2090,1442.25"/>
</g>
<g id="legend" shape-rendering="crispEdges">
<rect x="1298" y="820" width="806" height="428" fill="#fff"/>
<rect x="1298" y="820" width="1" height="428" fill="#000"/>
<rect x="2103" y="820" width="1" height="428" fill="#000"/>
<rect x="1298" y="820" width="806" height="1" fill="#000"/>
<rect x="1298" y="1246" width="806" height="2" fill="#000"/>
<rect x="1333" y="868" width="175" height="1" fill="#00f"/>
<circle cx="1420.75" cy="868" r="17.1" fill="none" stroke="#00f" stroke-width="2"/>
<line x1="1333" y1="950.75" x2="1508" y2="950.75" stroke="#f00" stroke-width="2"/>
<path d="M1403.25 950.75H1439.25M1420.75 932.75V969.75" fill="none" stroke="#f00" stroke-width="2"/>
<line x1="1333" y1="1033.75" x2="1508" y2="1033.75" stroke="#f0f" stroke-width="2"/>
<circle cx="1422.5" cy="1035.5" r="11.6" fill="#f0f"/>
<line x1="1333" y1="1111.75" x2="1508" y2="1111.75" stroke="#0f0" stroke-width="2"/>
<path d="M1403.25 1111.75H1439.25M1420.75 1093.75V1130.75M1411.45 1102.45L1430.05 1121.05M1411.45 1121.05L1430.05 1102.45" fill="none" stroke="#0f0" stroke-width="2"/>
<line x1="1333" y1="1194.5" x2="1508" y2="1194.5" stroke="#000" stroke-width="2"/>
<polygon fill="none" stroke="#000" stroke-width="1.75" stroke-linejoin="miter" stroke-miterlimit="2" points="1420.75,1176.1 1420.75,1185.5 1434.35,1185.5 1424.95,1194.5 1429.05,1207.8 1420.75,1198 1407.55,1207.8 1410.75,1194.5 1402.05,1185.5 1416.25,1185.5"/>
</g>
<g id="legend-text">
<text transform="translate(1525.23 888.75) scale(1.02 1.03)" font-family='"Liberation Sans", sans-serif' font-size="56px" fill="#000">time domain kurtosis</text>
<text transform="translate(1525.23 971.25) scale(1.02 1.03)" font-family='"Liberation Sans", sans-serif' font-size="56px" fill="#000">time domain CK</text>
<text transform="translate(1524.23 1054.5) scale(1.01 1.03)" font-family='"Liberation Sans", sans-serif' font-size="56px" fill="#000">angle domain kurtosis</text>
<text transform="translate(1524.24 1132.5) scale(1 1.03)" font-family='"Liberation Sans", sans-serif' font-size="56px" fill="#000">angle domain CK</text>
<text transform="translate(1524.24 1215) scale(1.01 1.03)" font-family='"Liberation Sans", sans-serif' font-size="56px" fill="#000">angle domain OSCK</text>
</g>
<g id="ticklabels">
<text transform="translate(127.85 158) scale(1 1.04)" font-family='"Liberation Sans", sans-serif' font-size="56px" fill="#000">25</text>
<text transform="translate(128.2 318.8) scale(1 1.04)" font-family='"Liberation Sans", sans-serif' font-size="56px" fill="#000">20</text>
<text transform="translate(129.6 484) scale(1 1.04)" x="1.95 31.14" font-family='"Liberation Sans", sans-serif' font-size="56px" fill="#000">15</text>
<rect x="134.75" y="478.6" width="10.8" height="6.6" fill="#fff"/>
<rect x="150.6" y="478.6" width="11" height="6.6" fill="#fff"/>
<text transform="translate(128.97 644.8) scale(1 1.04)" x="1.95 31.14" font-family='"Liberation Sans", sans-serif' font-size="56px" fill="#000">10</text>
<rect x="134.12" y="639.4" width="10.8" height="6.6" fill="#fff"/>
<rect x="149.97" y="639.4" width="11" height="6.6" fill="#fff"/>
<text transform="translate(195.38 758) scale(1 1.04)" font-family='"Liberation Sans", sans-serif' font-size="56px" fill="#000">0</text>
<text transform="translate(403.3 758) scale(1 1.04)" x="1.95" font-family='"Liberation Sans", sans-serif' font-size="56px" fill="#000">1</text>
<rect x="408.45" y="752.6" width="10.8" height="6.6" fill="#fff"/>
<rect x="424.3" y="752.6" width="11" height="6.6" fill="#fff"/>
<text transform="translate(611.5 758) scale(1 1.04)" font-family='"Liberation Sans", sans-serif' font-size="56px" fill="#000">2</text>
<text transform="translate(820.75 758) scale(1 1.04)" font-family='"Liberation Sans", sans-serif' font-size="56px" fill="#000">3</text>
<text transform="translate(1028.75 758) scale(1 1.04)" font-family='"Liberation Sans", sans-serif' font-size="56px" fill="#000">4</text>
<text transform="translate(1243.12 758) scale(1 1.04)" font-family='"Liberation Sans", sans-serif' font-size="56px" fill="#000">5</text>
<text transform="translate(1450.5 758) scale(1 1.04)" font-family='"Liberation Sans", sans-serif' font-size="56px" fill="#000">6</text>
<text transform="translate(1660 758) scale(1 1.04)" font-family='"Liberation Sans", sans-serif' font-size="56px" fill="#000">7</text>
<text transform="translate(1868.5 758) scale(1 1.04)" font-family='"Liberation Sans", sans-serif' font-size="56px" fill="#000">8</text>
<text transform="translate(2081.75 758) scale(1 1.04)" font-family='"Liberation Sans", sans-serif' font-size="56px" fill="#000">9</text>
<text transform="translate(159.55 962.5) scale(1 1.04)" x="1.95" font-family='"Liberation Sans", sans-serif' font-size="56px" fill="#000">1</text>
<rect x="164.7" y="957.1" width="10.8" height="6.6" fill="#fff"/>
<rect x="180.55" y="957.1" width="11" height="6.6" fill="#fff"/>
<text transform="translate(111.7 1267.5) scale(1 1.04)" font-family='"Liberation Sans", sans-serif' font-size="56px" letter-spacing="0.35px" fill="#000">0.5</text>
<text transform="translate(159.5 1576.75) scale(1 1.04)" font-family='"Liberation Sans", sans-serif' font-size="56px" fill="#000">0</text>
<text transform="translate(195.38 1623.75) scale(1 1.04)" font-family='"Liberation Sans", sans-serif' font-size="56px" fill="#000">0</text>
<text transform="translate(403 1623.75) scale(1 1.04)" font-family='"Liberation Sans", sans-serif' font-size="56px" fill="#000">5</text>
<text transform="translate(595.5 1623.75) scale(1 1.04)" x="1.95 31.14" font-family='"Liberation Sans", sans-serif' font-size="56px" fill="#000">10</text>
<rect x="600.65" y="1618.35" width="10.8" height="6.6" fill="#fff"/>
<rect x="616.5" y="1618.35" width="11" height="6.6" fill="#fff"/>
<text transform="translate(803.62 1623.75) scale(1 1.04)" x="1.95 31.14" font-family='"Liberation Sans", sans-serif' font-size="56px" fill="#000">15</text>
<rect x="808.78" y="1618.35" width="10.8" height="6.6" fill="#fff"/>
<rect x="824.62" y="1618.35" width="11" height="6.6" fill="#fff"/>
<text transform="translate(1011.5 1623.75) scale(1 1.04)" font-family='"Liberation Sans", sans-serif' font-size="56px" fill="#000">20</text>
<text transform="translate(1224.65 1623.75) scale(1 1.04)" font-family='"Liberation Sans", sans-serif' font-size="56px" fill="#000">25</text>
<text transform="translate(1434.12 1623.75) scale(1 1.04)" font-family='"Liberation Sans", sans-serif' font-size="56px" fill="#000">30</text>
<text transform="translate(1643.38 1623.75) scale(1 1.04)" font-family='"Liberation Sans", sans-serif' font-size="56px" fill="#000">35</text>
<text transform="translate(1851.12 1623.75) scale(1 1.04)" font-family='"Liberation Sans", sans-serif' font-size="56px" fill="#000">40</text>
<text transform="translate(2063.38 1623.75) scale(1 1.04)" font-family='"Liberation Sans", sans-serif' font-size="56px" fill="#000">45</text>
</g>
<g id="labels">
<text transform="translate(1044 831.75) scale(1 1.05)" font-family='"Liberation Sans", sans-serif' font-size="56px" letter-spacing="0.79px" fill="#000">Time [s]</text>
<text transform="translate(1046.8 1698.3) scale(1 1.05)" font-family='"Liberation Sans", sans-serif' font-size="56px" letter-spacing="-0.1px" fill="#000">Number</text>
<text transform="translate(80.7 545.7) rotate(-90) scale(1 1.04)" font-family='"Liberation Sans", sans-serif' font-size="56px" letter-spacing="1.25px" fill="#000">Velocity[Hz]</text>
<text transform="translate(64 1509) rotate(-90) scale(1 1.04)" font-family='"Liberation Sans", sans-serif' font-size="56px" letter-spacing="0.36px" fill="#000">Normalized kurtosis</text>
<text transform="translate(10 87) scale(1 1)" font-family='"Liberation Serif", serif' font-size="100px" fill="#000">(a)</text>
<text transform="translate(5.91 944) scale(1.02 1)" font-family='"Liberation Serif", serif' font-size="100px" fill="#000">(b)</text>
</g>
</svg></body></html>
